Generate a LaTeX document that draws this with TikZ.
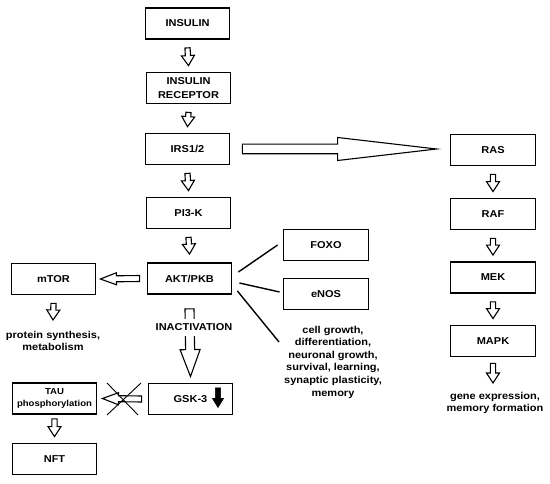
\documentclass[tikz,border=0pt]{standalone}
\usepackage{fontspec}
\setmainfont{Liberation Sans}[FakeStretch=1.1]
\usetikzlibrary{calc}
\tikzset{
  arrsw/.store in=\arrsw, arrhw/.store in=\arrhw, arrhl/.store in=\arrhl,
  arrsw=2.6pt, arrhw=6.5pt, arrhl=10pt,
  harr/.style={draw, line width=1.1pt, fill=white, line join=miter,
    to path={let \p1=(\tikztostart), \p2=(\tikztotarget), \n1={atan2(\y2-\y1,\x2-\x1)} in
      ($(\p1)+({\n1+90}:\arrsw)$)
      -- ($(\p2)+({\n1+180}:\arrhl)+({\n1+90}:\arrsw)$)
      -- ($(\p2)+({\n1+180}:\arrhl)+({\n1+90}:\arrhw)$)
      -- (\p2)
      -- ($(\p2)+({\n1+180}:\arrhl)+({\n1-90}:\arrhw)$)
      -- ($(\p2)+({\n1+180}:\arrhl)+({\n1-90}:\arrsw)$)
      -- ($(\p1)+({\n1-90}:\arrsw)$) -- cycle}},
  box/.style={draw, line width=1.8pt, minimum width=84pt, minimum height=31pt,
    font=\bfseries\fontsize{10}{14}\selectfont, align=center, inner sep=1pt},
  lbl/.style={font=\bfseries\fontsize{10}{12}\selectfont, align=center, inner sep=0pt},
  link/.style={line width=1.4pt},
}
\begin{document}
\begin{tikzpicture}[x=1pt,y=-1pt]
\useasboundingbox[fill=white] (0,0) rectangle (550,484);
% main column
\node[box] (ins) at (187.5,23.5) {INSULIN};
\node[box] (rec) at (188.5,88) {INSULIN\\RECEPTOR};
\node[box] (irs) at (187.5,149) {IRS1/2};
\node[box] (pi3) at (188.5,213) {PI3-K};
\node[box] (akt) at (189.5,278.5) {AKT/PKB};
\node[box] (gsk) at (190.5,399) {GSK-3};
% left column
\node[box] (mtor) at (53.5,279) {mTOR};
\node[box, font=\bfseries\fontsize{8.7}{12}\selectfont] (tau) at (54.5,398.5) {TAU\\phosphorylation};
\node[box] (nft) at (54.5,459) {NFT};
% middle
\node[box, minimum width=85pt] (foxo) at (326,245) {FOXO};
\node[box, minimum width=85pt] (enos) at (326,294) {eNOS};
% right column
\node[box, minimum width=85pt] (ras) at (493,150) {RAS};
\node[box, minimum width=85pt] (raf) at (493,214) {RAF};
\node[box, minimum width=85pt] (mek) at (493,277.5) {MEK};
\node[box, minimum width=85pt] (mapk) at (493,341) {MAPK};
% texts
\node[lbl, font=\bfseries\fontsize{10}{11.5}\selectfont] (ps) at (53,341) {protein synthesis,\\metabolism};
\node[lbl, font=\bfseries\fontsize{10}{12.6}\selectfont] (cg) at (333,362) {cell growth,\\differentiation,\\neuronal growth,\\survival, learning,\\synaptic plasticity,\\memory};
\node[lbl, font=\bfseries\fontsize{10}{11.7}\selectfont] (ge) at (495,403) {gene expression,\\memory formation};
\coordinate (ps-in) at (53,320);
\coordinate (ge-in) at (493,383);
\coordinate (cg-in) at (279,342);
% down arrows
\draw[harr] ($(ins.south)+(0,8)$) to ($(rec.north)+(0,-6)$);
\draw[harr] ($(rec.south)+(0,8)$) to ($(irs.north)+(0,-6)$);
\draw[harr] ($(irs.south)+(0,8)$) to ($(pi3.north)+(0,-6)$);
\draw[harr] ($(pi3.south)+(0,8)$) to ($(akt.north)+(0,-8)$);
\draw[harr] ($(ras.south)+(0,8)$) to ($(raf.north)+(0,-6)$);
\draw[harr] ($(raf.south)+(0,8)$) to ($(mek.north)+(0,-6)$);
\draw[harr] ($(mek.south)+(0,8)$) to ($(mapk.north)+(0,-6)$);
\draw[harr] ($(mapk.south)+(0,6)$) to (ge-in);
\draw[harr] ($(mtor.south)+(0,8)$) to (ps-in);
\draw[harr] ($(tau.south)+(0,4)$) to ($(nft.north)+(0,-6)$);
% horizontal arrows
\draw[harr, arrhl=16pt, arrhw=6pt, arrsw=3pt] ($(akt.west)+(-7,0)$) to ($(mtor.east)+(4,0)$);
\draw[harr, arrhl=16pt, arrhw=6pt, arrsw=3pt] ($(gsk.west)+(-6,0)$) to ($(tau.east)+(5,0)$);
\draw[harr, arrsw=4.8pt, arrhw=11.5pt, arrhl=99pt] ($(irs.east)+(12,0)$) to ($(ras.west)+(-13,-1)$);
% inactivation arrow
\draw[harr, arrsw=4.5pt, arrhw=10pt, arrhl=27pt] ($(akt.south)+(0,14)$) to ($(gsk.north)+(0,-6)$);
\node[lbl, fill=white, inner xsep=1pt, inner ysep=5pt] (inact) at (194,327.5) {INACTIVATION};
% cross over arrow
\draw[line width=0.9pt] (107,383) -- (138,415);
\draw[line width=0.9pt] (107,415) -- (141,383);
% black arrow in GSK-3
\draw[harr, fill=black, line width=0.6pt, arrsw=2.6pt, arrhw=5.5pt, arrhl=9pt] ($(gsk.center)+(27.5,-11)$) to ($(gsk.center)+(27.5,8.5)$);
% AKT links
\draw[link] ($(akt.east)+(6,-6.5)$) -- ($(foxo.west)+(-5,0)$);
\draw[link] ($(akt.east)+(7,4.5)$) -- ($(enos.west)+(-3,-2)$);
\draw[link] ($(akt.east)+(5,12.5)$) -- (cg-in);
\end{tikzpicture}
\end{document}
